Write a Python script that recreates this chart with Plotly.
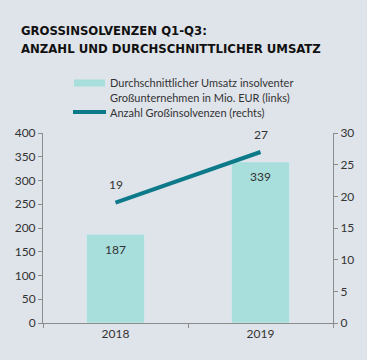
import plotly.graph_objects as go

years = ["2018", "2019"]
umsatz = [187, 339]          # left axis, Mio. EUR
anzahl = [19, 27]            # right axis, count
left_ticks = [0, 50, 100, 150, 200, 250, 300, 350, 400]
right_ticks = [0, 5, 10, 15, 20, 25, 30]

title_lines = ["GROSSINSOLVENZEN Q1-Q3:", "ANZAHL UND DURCHSCHNITTLICHER UMSATZ"]
legend_bar = ["Durchschnittlicher Umsatz insolventer", "Großunternehmen in Mio. EUR (links)"]
legend_line = "Anzahl Großinsolvenzen (rechts)"

BG = "#dfe3ea"
BAR = "#a8dedb"
LINE = "#0d7a8a"
AXIS = "#8c8c8c"
TXT = "#333333"
FONT = "Lato"

W, H = 367, 360
L, R, T, B = 43, 34, 133, 37
pw, ph = W - L - R, H - T - B

def px(x):
    return (x - L) / pw

def py(y):
    return (H - B - y) / ph

fig = go.Figure()
fig.add_trace(go.Bar(x=years, y=umsatz, marker_color=BAR, width=0.4,
                     showlegend=False, hoverinfo="skip"))
fig.add_trace(go.Scatter(x=years, y=anzahl, mode="lines", yaxis="y2",
                         line=dict(color=LINE, width=4), showlegend=False))

ann = []
for i, v in enumerate(umsatz):
    ann.append(dict(x=i, y=v, xref="x", yref="y", text=str(v), showarrow=False,
                    yshift=-15, font=dict(family=FONT, size=12, color=TXT)))
for i, v in enumerate(anzahl):
    ann.append(dict(x=i, y=v, xref="x", yref="y2", text=str(v), showarrow=False,
                    yshift=18, font=dict(family=FONT, size=12, color=TXT)))

# title
for text, ypx in zip(title_lines, [30, 48.5]):
    ann.append(dict(x=px(19), y=py(ypx), xref="paper", yref="paper", text="<b>%s</b>" % text,
                    showarrow=False, xanchor="left", yanchor="middle",
                    font=dict(family="DejaVu Sans Condensed", size=13, color="#111111")))

# legend texts
for text, ypx in zip(legend_bar + [legend_line], [82, 97.5, 113]):
    ann.append(dict(x=px(108), y=py(ypx), xref="paper", yref="paper", text=text,
                    showarrow=False, xanchor="left", yanchor="middle",
                    font=dict(family=FONT, size=11, color=TXT)))

shapes = [
    dict(type="rect", xref="paper", yref="paper", x0=px(74), x1=px(105), y0=py(86.5), y1=py(79.5),
         fillcolor=BAR, line=dict(width=0)),
    dict(type="line", xref="paper", yref="paper", x0=px(73), x1=px(106), y0=py(112), y1=py(112),
         line=dict(color=LINE, width=4)),
]

fig.update_layout(
    width=W, height=H,
    margin=dict(l=L, r=R, t=T, b=B),
    paper_bgcolor=BG, plot_bgcolor=BG,
    font=dict(family=FONT, size=12, color=TXT),
    annotations=ann, shapes=shapes,
    xaxis=dict(type="category", range=[-0.5, 1.5], showline=True, linecolor=AXIS, linewidth=1,
               ticks="outside", tickson="boundaries", ticklen=4, tickcolor=AXIS,
               showgrid=False, zeroline=False, tickfont=dict(size=12, color=TXT)),
    yaxis=dict(range=[0, 400], tickvals=left_ticks, showline=True, linecolor=AXIS,
               ticks="outside", ticklen=4, tickcolor=AXIS, showgrid=False, zeroline=False,
               tickfont=dict(size=12, color=TXT)),
    yaxis2=dict(range=[0, 30], tickvals=right_ticks, overlaying="y", side="right",
                showline=True, linecolor=AXIS, ticks="outside", ticklen=4, tickcolor=AXIS,
                showgrid=False, zeroline=False, tickfont=dict(size=12, color=TXT)),
    bargap=0.6,
)

fig.write_html("out.html", config={"displayModeBar": False},
               post_script="document.body.style.margin='0';document.body.style.padding='0';")
